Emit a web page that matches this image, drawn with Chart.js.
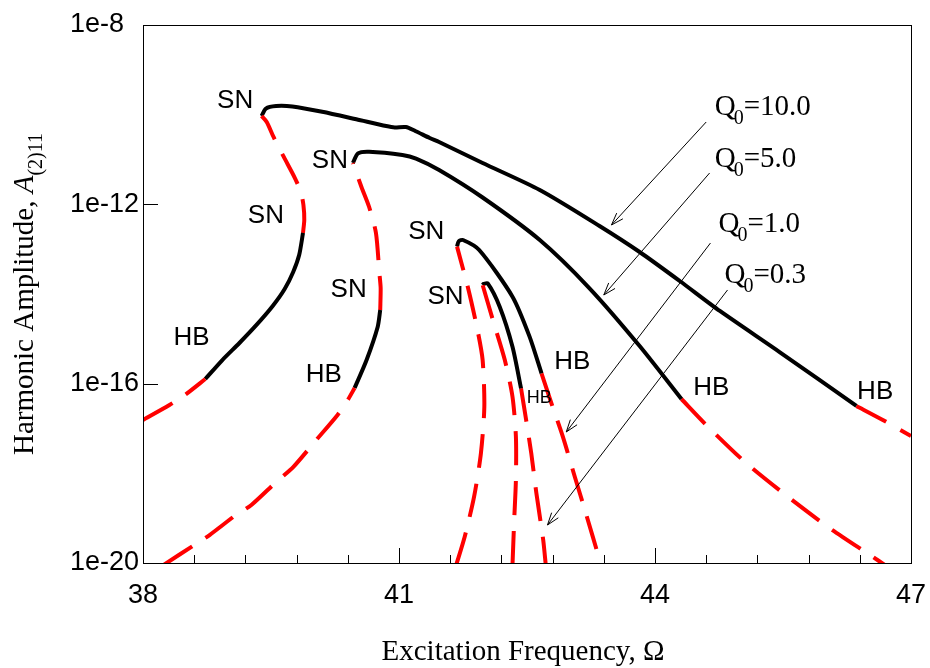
<!DOCTYPE html>
<html><head><meta charset="utf-8">
<script src="https://cdn.jsdelivr.net/npm/chart.js@4.4.1/dist/chart.umd.min.js"></script>
<style>html,body{margin:0;padding:0;background:#fff}</style>
</head><body>
<canvas id="c" width="930" height="668"></canvas>
<script>
// ---------------- data ----------------
const xTicks = [38, 41, 44, 47];
const xMinorTicks = [38.6, 39.2, 39.8, 40.4, 41.6, 42.2, 42.8, 43.4, 44.6, 45.2, 45.8, 46.4];
const yTicks = [1e-20, 1e-16, 1e-12, 1e-8];

// Q0 = 10.0
const q10_unstableLow = [[38.00,1.55e-17],[38.31,3.34e-17],[38.49,5.58e-17],[38.73,1.27e-16]];
const q10_stableLow = [[38.73,1.27e-16],[38.93,3.37e-16],[39.13,8.07e-16],[39.33,2.04e-15],[39.52,5.40e-15],[39.66,1.29e-14],[39.76,3.10e-14],[39.83,7.41e-14],[39.875,2.30e-13]];
const q10_unstableMid = [[39.875,2.30e-13],[39.89,4.48e-13],[39.88,9.66e-13],[39.85,1.88e-12],[39.78,3.86e-12],[39.65,1.14e-11],[39.53,3.18e-11],[39.45,6.86e-11],[39.39,9.33e-11]];
const q10_stableTop = [[39.39,9.33e-11],[39.44,1.37e-10],[39.56,1.56e-10],[39.75,1.52e-10],[40.10,1.16e-10],[40.50,7.89e-11],[40.85,5.58e-11],[40.95,5.20e-11],[41.08,5.31e-11],[41.19,4.33e-11],[41.36,3.02e-11],[41.47,2.45e-11],[41.98,8.35e-12],[42.65,2.09e-12],[43.35,3.29e-13],[43.82,8.65e-14],[44.29,1.95e-14],[44.76,4.18e-15],[45.46,5.08e-16],[46.36,3.18e-17]];
const q10_unstableHigh = [[46.36,3.18e-17],[46.67,1.55e-17],[47.00,6.81e-18]];

// Q0 = 5.0
const q5_unstableLow = [[38.24,9.0e-21],[38.60,2.52e-20],[38.78,4.21e-20],[39.09,1.18e-19],[39.27,1.97e-19],[39.56,6.41e-19],[39.76,1.38e-18],[40.03,5.53e-18],[40.28,2.00e-17],[40.40,4.33e-17],[40.48,8.00e-17]];
const q5_stableLow = [[40.48,8.00e-17],[40.62,3.37e-16],[40.75,1.84e-15],[40.78,4.40e-15]];
const q5_unstableMid = [[40.78,4.40e-15],[40.785,1.36e-14],[40.77,2.94e-14],[40.73,2.30e-13],[40.65,8.73e-13],[40.56,2.44e-12],[40.46,8.35e-12]];
const q5_stableTop = [[40.46,8.35e-12],[40.52,1.37e-11],[40.65,1.49e-11],[41.04,1.26e-11],[41.20,1.05e-11],[41.47,5.83e-12],[41.98,1.42e-12],[42.65,1.60e-13],[43.23,1.36e-14],[43.82,6.92e-16],[44.31,4.55e-17]];
const q5_unstableHigh = [[44.31,4.55e-17],[44.60,1.20e-17],[45.07,1.68e-18],[45.58,2.77e-19],[46.05,5.94e-20],[46.55,1.38e-20],[46.69,9.1e-21]];

// Q0 = 1.0
const q1_unstableLeft = [[41.67,9.0e-21],[41.77,3.86e-20],[41.88,3.01e-19],[41.96,2.80e-18],[42.00,3.06e-17],[41.98,3.37e-16],[41.92,1.57e-15],[41.81,1.34e-14],[41.68,1.14e-13]];
const q1_stable = [[41.68,1.14e-13],[41.70,1.50e-13],[41.75,1.60e-13],[41.94,9.57e-14],[42.33,8.71e-15],[42.53,1.12e-15],[42.67,1.70e-16]];
const q1_unstableRight = [[42.67,1.70e-16],[42.80,3.06e-17],[42.92,6.56e-18],[43.06,8.41e-19],[43.19,1.28e-19],[43.35,1.17e-20],[43.36,9.0e-21]];

// Q0 = 0.3
const q03_unstableLeft = [[42.33,9.0e-21],[42.35,9.10e-20],[42.37,7.10e-19],[42.37,6.56e-18],[42.33,5.12e-17],[42.24,3.37e-16],[42.10,2.63e-15],[41.98,1.59e-14]];
const q03_stable = [[41.98,1.59e-14],[41.99,1.67e-14],[42.04,1.73e-14],[42.18,5.21e-15],[42.33,6.67e-16],[42.43,7.89e-17]];
const q03_unstableRight = [[42.43,7.89e-17],[42.49,1.55e-17],[42.55,2.80e-18],[42.61,3.59e-19],[42.69,3.26e-20],[42.72,9.0e-21]];

// annotation anchors (data coordinates)
const snLabelPos = [[39.08,2.02e-10],[39.44,5.5e-13],[40.19,9.3e-12],[40.41,1.23e-14],[41.32,2.42e-13],[41.545,8.57e-15]];
const hbLabelPos = [[38.57,1.05e-15],[46.58,6.5e-17],[40.12,1.56e-16],[44.66,8.0e-17],[43.03,3.04e-16]];
const hbSmallLabelPos = [[42.645,4.79e-17]];
const qValues = ['10.0', '5.0', '1.0', '0.3'];
const qLabelPos = [[44.70,9.84e-11],[44.70,6.8e-12],[44.745,2.42e-13],[44.815,1.76e-14]];
const arrowFrom = [[44.60,6.86e-11],[44.64,5.0e-12],[44.65,1.37e-13],[44.85,1.23e-14]];
const arrowTo = [[43.49,3.46e-13],[43.40,9.5e-15],[42.96,8.36e-18],[42.74,7.03e-20]];

// ---------------- chart ----------------
const SANS = '"Liberation Sans", Arial, sans-serif';
const SERIF = '"Liberation Serif", "Times New Roman", serif';

function seg(points, stable) {
  return {
    data: points.map(p => ({x: p[0], y: p[1]})),
    borderColor: stable ? '#000000' : '#ff0000',
    borderWidth: 4,
    borderDash: stable ? [] : [34, 16],
    pointRadius: 0,
    tension: 0.25,
    fill: false,
    clip: 0
  };
}

const datasets = [
  seg(q10_unstableLow, false), seg(q10_stableLow, true), seg(q10_unstableMid, false), seg(q10_stableTop, true), seg(q10_unstableHigh, false),
  seg(q5_unstableLow, false), seg(q5_stableLow, true), seg(q5_unstableMid, false), seg(q5_stableTop, true), seg(q5_unstableHigh, false),
  seg(q1_unstableLeft, false), seg(q1_stable, true), seg(q1_unstableRight, false),
  seg(q03_unstableLeft, false), seg(q03_stable, true), seg(q03_unstableRight, false)
];

const overlay = {
  id: 'overlay',
  afterDatasetsDraw(chart) {
    const {ctx, chartArea: a, scales: {x, y}} = chart;
    const P = p => [x.getPixelForValue(p[0]), y.getPixelForValue(p[1])];
    ctx.save();
    ctx.strokeStyle = '#000';
    ctx.lineWidth = 1;
    // frame
    ctx.strokeRect(Math.round(a.left) + 0.5, Math.round(a.top) + 0.5, Math.round(a.right - a.left), Math.round(a.bottom - a.top));
    // x ticks (inward)
    ctx.beginPath();
    xTicks.forEach(v => { const px = Math.round(x.getPixelForValue(v)) + 0.5; ctx.moveTo(px, a.bottom); ctx.lineTo(px, a.bottom - 15); });
    xMinorTicks.forEach(v => { const px = Math.round(x.getPixelForValue(v)) + 0.5; ctx.moveTo(px, a.bottom); ctx.lineTo(px, a.bottom - 8); });
    // y ticks (inward)
    yTicks.forEach(v => { const py = Math.round(y.getPixelForValue(v)) + 0.5; ctx.moveTo(a.left, py); ctx.lineTo(a.left + 15, py); });
    ctx.stroke();

    // arrows
    arrowFrom.forEach((f, i) => {
      const [x1, y1] = P(f), [x2, y2] = P(arrowTo[i]);
      const ang = Math.atan2(y2 - y1, x2 - x1);
      ctx.beginPath();
      ctx.moveTo(x1, y1); ctx.lineTo(x2, y2);
      const L = 13, w = 0.33;
      ctx.moveTo(x2 - L * Math.cos(ang - w), y2 - L * Math.sin(ang - w));
      ctx.lineTo(x2, y2);
      ctx.lineTo(x2 - L * Math.cos(ang + w), y2 - L * Math.sin(ang + w));
      ctx.stroke();
    });

    // SN / HB labels
    ctx.fillStyle = '#000';
    ctx.textAlign = 'center';
    ctx.textBaseline = 'middle';
    ctx.font = '26px ' + SANS;
    snLabelPos.forEach(p => { const [px, py] = P(p); ctx.fillText('SN', px, py); });
    hbLabelPos.forEach(p => { const [px, py] = P(p); ctx.fillText('HB', px, py); });
    ctx.font = '18px ' + SANS;
    hbSmallLabelPos.forEach(p => { const [px, py] = P(p); ctx.fillText('HB', px, py); });

    // Q0 labels
    ctx.textAlign = 'left';
    ctx.textBaseline = 'alphabetic';
    qLabelPos.forEach((p, i) => {
      let [px, py] = P(p);
      ctx.font = '29px ' + SERIF;
      ctx.fillText('Q', px, py);
      px += ctx.measureText('Q').width - 2;
      ctx.font = '20px ' + SERIF;
      ctx.fillText('0', px, py + 9);
      px += ctx.measureText('0').width;
      ctx.font = '29px ' + SERIF;
      ctx.fillText('=' + qValues[i], px, py);
    });

    // x axis title
    ctx.font = '29px ' + SERIF;
    ctx.textAlign = 'center';
    ctx.fillText('Excitation Frequency, \u03A9', 523, 660);

    // y axis title (rotated)
    const cy = (a.top + a.bottom) / 2;
    ctx.translate(33, cy);
    ctx.rotate(-Math.PI / 2);
    ctx.textAlign = 'left';
    const partMain = 'Harmonic Amplitude, ';
    ctx.font = '29px ' + SERIF;
    const w1 = ctx.measureText(partMain).width;
    ctx.font = 'italic 29px ' + SERIF;
    const w2 = ctx.measureText('A').width;
    ctx.font = '20px ' + SERIF;
    const w3 = ctx.measureText('(2)11').width;
    let sx = -(w1 + w2 + w3) / 2;
    ctx.font = '29px ' + SERIF;
    ctx.fillText(partMain, sx, 0); sx += w1;
    ctx.font = 'italic 29px ' + SERIF;
    ctx.fillText('A', sx, 0); sx += w2;
    ctx.font = '20px ' + SERIF;
    ctx.fillText('(2)11', sx, 9);
    ctx.restore();
  }
};

new Chart(document.getElementById('c'), {
  type: 'line',
  data: {datasets},
  options: {
    responsive: false,
    animation: false,
    devicePixelRatio: 1,
    layout: {padding: {left: 70, right: 19, top: 25, bottom: 0}},
    plugins: {legend: {display: false}, tooltip: {enabled: false}, title: {display: false}},
    scales: {
      x: {
        type: 'linear', min: 38, max: 47,
        grid: {display: false, drawTicks: true, tickLength: 16},
        border: {display: false},
        afterBuildTicks: s => { s.ticks = xTicks.map(v => ({value: v})); },
        afterFit: s => { s.height = 105; },
        ticks: {color: '#000', font: {family: SANS, size: 27}, padding: 0, maxRotation: 0, autoSkip: false, callback: v => String(v)}
      },
      y: {
        type: 'logarithmic', min: 1e-20, max: 1e-8,
        grid: {display: false, drawTicks: false, tickLength: 0},
        border: {display: false},
        afterBuildTicks: s => { s.ticks = yTicks.map(v => ({value: v})); },
        afterFit: s => { s.width = 73; },
        ticks: {color: '#000', font: {family: SANS, size: 27}, padding: 0, crossAlign: 'far', autoSkip: false,
          callback: v => '1e' + Math.round(Math.log10(v))}
      }
    }
  },
  plugins: [overlay]
});
</script>
</body></html>
